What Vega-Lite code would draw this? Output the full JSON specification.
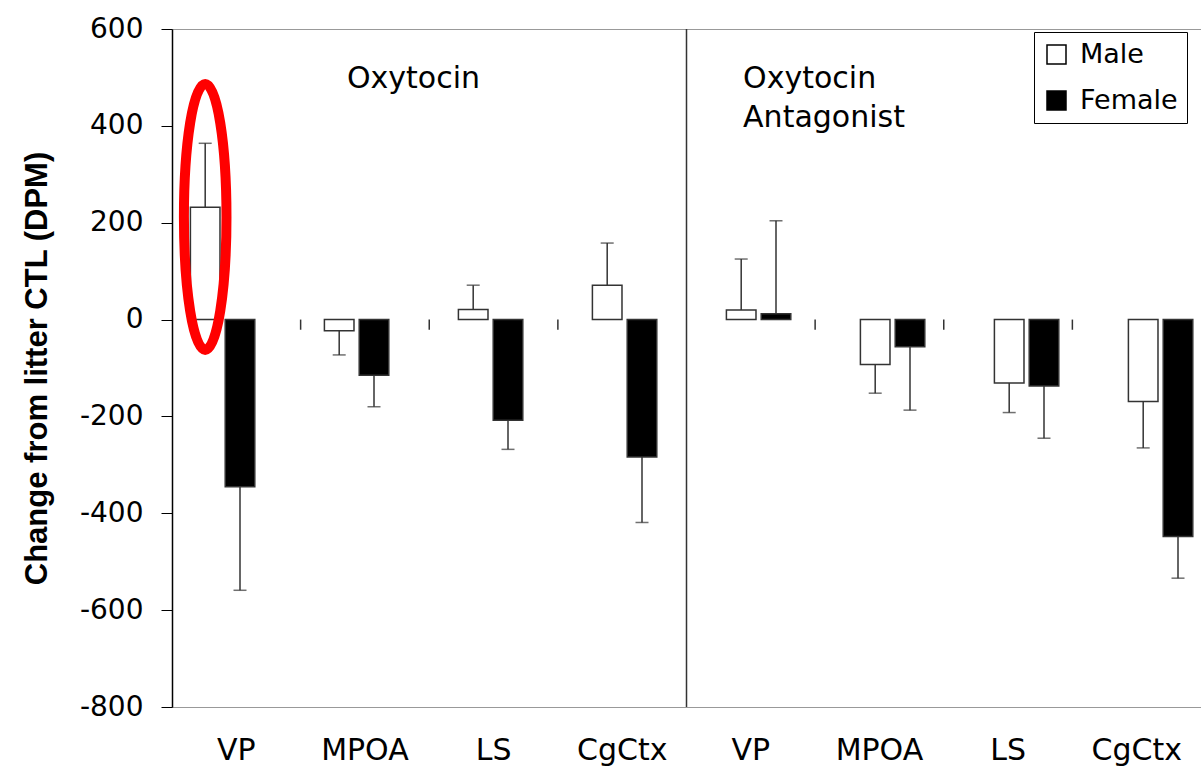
{
  "$schema": "https://vega.github.io/schema/vega-lite/v6.json",
  "autosize": "none",
  "padding": {"left": 172, "top": 29, "right": 0, "bottom": 63},
  "width": 1029,
  "height": 678,
  "background": "white",
  "config": {
    "view": {"stroke": "#999", "strokeWidth": 1},
    "font": "DejaVu Sans",
    "text": {"lineBreak": "\n"}
  },
  "datasets": {
    "bars": [
      {"key": "OT|VP", "sex": "Male", "value": 232, "errEnd": 364},
      {"key": "OT|VP", "sex": "Female", "value": -345, "errEnd": -559},
      {"key": "OT|MPOA", "sex": "Male", "value": -23, "errEnd": -73},
      {"key": "OT|MPOA", "sex": "Female", "value": -115, "errEnd": -180},
      {"key": "OT|LS", "sex": "Male", "value": 21, "errEnd": 71},
      {"key": "OT|LS", "sex": "Female", "value": -208, "errEnd": -268},
      {"key": "OT|CgCtx", "sex": "Male", "value": 71, "errEnd": 158},
      {"key": "OT|CgCtx", "sex": "Female", "value": -284, "errEnd": -419},
      {"key": "OA|VP", "sex": "Male", "value": 20, "errEnd": 125},
      {"key": "OA|VP", "sex": "Female", "value": 12, "errEnd": 204},
      {"key": "OA|MPOA", "sex": "Male", "value": -93, "errEnd": -152},
      {"key": "OA|MPOA", "sex": "Female", "value": -56, "errEnd": -187},
      {"key": "OA|LS", "sex": "Male", "value": -131, "errEnd": -192},
      {"key": "OA|LS", "sex": "Female", "value": -137, "errEnd": -245},
      {"key": "OA|CgCtx", "sex": "Male", "value": -169, "errEnd": -265},
      {"key": "OA|CgCtx", "sex": "Female", "value": -448, "errEnd": -534}
    ],
    "bounds": [
      {"key": "OT|MPOA"}, {"key": "OT|LS"}, {"key": "OT|CgCtx"},
      {"key": "OA|MPOA"}, {"key": "OA|LS"}, {"key": "OA|CgCtx"}
    ]
  },
  "resolve": {"scale": {"x": "independent", "xOffset": "independent"}, "axis": {"x": "independent"}},
  "layer": [
    {
      "encoding": {
        "x": {
          "field": "key",
          "type": "nominal",
          "scale": {
            "domain": ["OT|VP", "OT|MPOA", "OT|LS", "OT|CgCtx", "OA|VP", "OA|MPOA", "OA|LS", "OA|CgCtx"],
            "paddingInner": 0,
            "paddingOuter": 0
          },
          "axis": {
            "title": null,
            "labelExpr": "split(datum.label, '|')[1]",
            "labelAngle": 0,
            "labelFont": "DejaVu Sans",
            "labelFontSize": 30,
            "labelColor": "black",
            "labelPadding": 28,
            "ticks": false,
            "domain": false,
            "grid": false
          }
        }
      },
      "layer": [
        {
          "mark": {"type": "rule", "color": "#555", "strokeWidth": 1.5},
          "encoding": {"y": {"datum": 0}, "x": null}
        },
        {
          "data": {"name": "bounds"},
          "mark": {"type": "rule", "color": "#333", "strokeWidth": 1.5},
          "encoding": {
            "x": {"field": "key", "type": "nominal", "bandPosition": 0},
            "y": {"datum": 0},
            "y2": {"datum": -21}
          }
        },
        {
          "data": {"values": [{"key": "OA|VP"}]},
          "mark": {"type": "rule", "color": "#333", "strokeWidth": 1.5},
          "encoding": {
            "x": {"field": "key", "type": "nominal", "bandPosition": 0},
            "y": {"datum": 600},
            "y2": {"datum": -800}
          }
        },
        {
          "data": {"values": [{"key": "OT|MPOA", "y": 478, "label": "Oxytocin"}]},
          "mark": {"type": "text", "align": "left", "baseline": "alphabetic", "font": "DejaVu Sans", "fontSize": 30, "color": "black"},
          "encoding": {
            "x": {"field": "key", "type": "nominal", "bandPosition": 0.36},
            "y": {"field": "y", "type": "quantitative"},
            "text": {"field": "label"}
          }
        },
        {
          "data": {"values": [{"key": "OA|VP", "y": 478, "label": "Oxytocin\nAntagonist"}]},
          "mark": {"type": "text", "align": "left", "baseline": "alphabetic", "font": "DejaVu Sans", "fontSize": 30, "lineHeight": 39, "color": "black"},
          "encoding": {
            "x": {"field": "key", "type": "nominal", "bandPosition": 0.44},
            "y": {"field": "y", "type": "quantitative"},
            "text": {"field": "label"}
          }
        }
      ]
    },
    {
      "data": {"name": "bars"},
      "encoding": {
        "x": {
          "field": "key",
          "type": "nominal",
          "scale": {
            "domain": ["OT|VP", "OT|MPOA", "OT|LS", "OT|CgCtx", "OA|VP", "OA|MPOA", "OA|LS", "OA|CgCtx"],
            "range": [-16.4, 1055.6],
            "paddingInner": 0,
            "paddingOuter": 0
          },
          "axis": null
        },
        "xOffset": {
          "field": "sex",
          "type": "nominal",
          "scale": {"domain": ["Male", "Female"], "paddingInner": 0.15, "paddingOuter": 1.1}
        }
      },
      "layer": [
        {
          "mark": {"type": "bar", "stroke": "#333", "strokeWidth": 1.5},
          "encoding": {
            "y": {
              "field": "value",
              "type": "quantitative",
              "scale": {"domain": [-800, 600], "nice": false, "zero": false},
              "axis": {
                "values": [-800, -600, -400, -200, 0, 200, 400, 600],
                "labelExpr": "(datum.value < 0 ? '-' : '') + abs(datum.value)",
                "title": "Change from litter CTL (DPM)",
                "titleFont": "Liberation Sans",
                "titleFontWeight": "bold",
                "titleFontSize": 31,
                "titleColor": "black",
                "titlePadding": 26,
                "labelFont": "DejaVu Sans",
                "labelFontSize": 28,
                "labelColor": "black",
                "labelPadding": 18,
                "tickSize": 11,
                "tickColor": "black",
                "domainColor": "black",
                "domainWidth": 1.5,
                "grid": false
              }
            },
            "color": {
              "field": "sex",
              "type": "nominal",
              "scale": {"domain": ["Male", "Female"], "range": ["white", "black"]},
              "legend": {
                "title": null,
                "orient": "none",
                "legendX": 862,
                "legendY": 3,
                "direction": "vertical",
                "strokeColor": "black",
                "fillColor": "white",
                "padding": 9,
                "symbolType": "square",
                "symbolSize": 361,
                "symbolStrokeColor": "black",
                "symbolStrokeWidth": 1.5,
                "symbolOffset": 0,
                "labelFont": "DejaVu Sans",
                "labelFontSize": 27,
                "labelColor": "black",
                "labelOffset": 10,
                "rowPadding": 18
              }
            }
          }
        },
        {
          "mark": {"type": "rule", "color": "#333", "strokeWidth": 1.5},
          "encoding": {
            "y": {"field": "value", "type": "quantitative"},
            "y2": {"field": "errEnd"}
          }
        },
        {
          "mark": {"type": "tick", "color": "#333", "size": 13, "thickness": 1.5, "orient": "horizontal"},
          "encoding": {
            "y": {"field": "errEnd", "type": "quantitative"}
          }
        },
        {
          "data": {"values": [{"key": "OT|VP", "sex": "Male", "y": 212}]},
          "mark": {
            "type": "point",
            "shape": "M0,-1 A0.16,1 0 1,0 0,1 A0.16,1 0 1,0 0,-1 Z",
            "size": 70756,
            "filled": false,
            "stroke": "red",
            "strokeWidth": 10,
            "opacity": 1
          },
          "encoding": {
            "y": {"field": "y", "type": "quantitative"}
          }
        }
      ]
    }
  ]
}
